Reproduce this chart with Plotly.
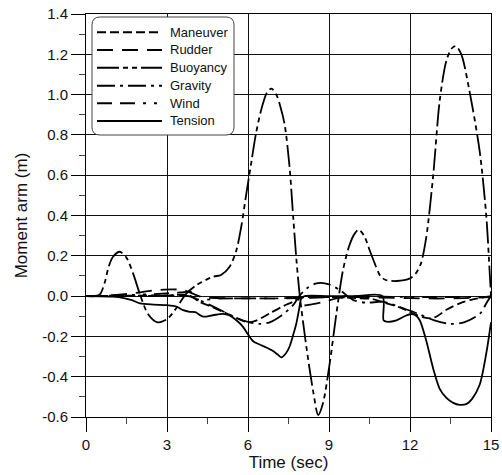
import plotly.graph_objects as go

# ---------------- data ----------------
t_buoyancy = [0, 0.45, 0.55, 0.7, 0.85, 1.0, 1.25, 1.5, 1.75, 2.02, 2.3, 2.65, 3.0, 3.37, 3.7,
              4.1, 4.7, 5.0, 5.32, 5.57, 5.75, 5.94, 6.13, 6.3, 6.5, 6.7, 6.87, 7.05, 7.2, 7.36,
              7.54, 7.67, 7.8, 7.92, 8.16, 8.41, 8.6, 8.78, 9.03, 9.27, 9.52, 9.75, 9.95, 10.1,
              10.3, 10.5, 10.7, 10.9, 11.1, 11.5, 12.0, 12.2, 12.4, 12.6, 12.86, 13.1, 13.35,
              13.55, 13.7, 13.9, 14.2, 14.58, 14.83, 14.95, 15.0]
v_buoyancy = [0, 0.002, 0.015, 0.07, 0.15, 0.195, 0.22, 0.19, 0.11, 0.0, -0.09, -0.13, -0.115,
              -0.055, 0.01, 0.055, 0.096, 0.105, 0.146, 0.228, 0.344, 0.51, 0.67, 0.81, 0.93,
              1.01, 1.03, 1.0, 0.94, 0.85, 0.64, 0.4, 0.17, 0.0, -0.25, -0.47, -0.59, -0.53,
              -0.33, -0.09, 0.13, 0.25, 0.31, 0.33, 0.3, 0.23, 0.16, 0.1, 0.08, 0.075, 0.088,
              0.11, 0.16, 0.29, 0.6, 0.97, 1.17, 1.23, 1.24, 1.2, 1.02, 0.72, 0.39, 0.12, 0.0]

t_maneuver = [0, 1.5, 3.0, 3.8, 4.2, 4.6, 5.07, 5.6, 6.0, 6.3, 6.8, 7.3, 7.67, 7.9, 8.2, 9.0,
              10.0, 10.6, 11.13, 11.6, 12.1, 12.5, 12.8, 13.0, 13.35, 13.84, 14.33, 15.0]
v_maneuver = [0, 0.002, 0.004, 0.005, -0.028, -0.05, -0.078, -0.11, -0.13, -0.122, -0.086,
              -0.05, -0.028, -0.01, -0.005, -0.005, -0.01, -0.015, -0.036, -0.055, -0.086,
              -0.105, -0.11, -0.1, -0.068, -0.036, -0.016, 0.0]

t_rudder = [0, 1.0, 1.8, 2.5, 3.2, 3.6, 4.0, 4.3, 5.0, 7.0, 7.85, 7.95, 8.4, 8.9, 9.4, 10.0,
            11.0, 12.0, 13.0, 14.0, 15.0]
v_rudder = [0, 0.005, 0.015, 0.028, 0.033, 0.03, 0.01, -0.005, -0.01, -0.012, -0.012, -0.045,
            -0.04, -0.025, -0.008, -0.005, -0.008, -0.01, -0.012, -0.01, -0.005]

t_gravity = [0, 2.0, 3.8, 4.2, 4.6, 5.07, 5.6, 6.0, 6.43, 6.8, 7.2, 7.67, 7.9, 8.2, 8.5, 8.7,
             9.0, 9.4, 9.9, 10.4, 11.0, 11.6, 12.25, 12.9, 13.5, 14.0, 14.6, 14.85, 15.0]
v_gravity = [0, 0.0, 0.0, -0.02, -0.045, -0.075, -0.11, -0.128, -0.138, -0.13, -0.1, -0.045,
             0.0, 0.04, 0.062, 0.066, 0.058, 0.03, -0.02, -0.033, -0.028, -0.053, -0.085,
             -0.12, -0.138, -0.13, -0.086, -0.03, 0.0]

t_wind = [0, 1.5, 2.5, 3.5, 3.9, 4.1, 5.0, 8.0, 9.0, 10.0, 11.0, 13.0, 15.0]
v_wind = [0, 0.005, 0.01, 0.018, 0.02, -0.015, -0.012, -0.01, -0.005, 0.0, -0.003, -0.005, -0.004]

t_tension = [0, 1.0, 1.4, 1.7, 2.0, 2.5, 3.0, 3.37, 3.6, 3.84, 4.05, 4.33, 4.7, 5.07, 5.3, 5.57,
             5.8, 6.0, 6.2, 6.43, 6.68, 6.9, 7.1, 7.24, 7.4, 7.54, 7.7, 7.79, 7.9, 7.98, 8.1,
             9.0, 10.0, 10.98, 11.02, 11.13, 11.5, 11.8, 12.0, 12.2, 12.36, 12.6, 12.86, 13.1,
             13.35, 13.6, 13.84, 14.1, 14.3, 14.58, 14.83, 15.0]
v_tension = [0, -0.003, -0.01, -0.02, -0.036, -0.042, -0.045, -0.053, -0.07, -0.078, -0.08,
             -0.102, -0.095, -0.088, -0.095, -0.12, -0.15, -0.19, -0.225, -0.24, -0.255, -0.27,
             -0.29, -0.304, -0.285, -0.25, -0.18, -0.136, -0.06, -0.01, 0.0, 0.0, 0.0, 0.0,
             -0.12, -0.127, -0.12, -0.1, -0.09, -0.095, -0.12, -0.22, -0.36, -0.46, -0.505,
             -0.53, -0.54, -0.535, -0.51, -0.44, -0.28, -0.13]

series_names = ["Maneuver", "Rudder", "Buoyancy", "Gravity", "Wind", "Tension"]
x_ticks = [0, 3, 6, 9, 12, 15]
y_ticks = [-0.6, -0.4, -0.2, 0.0, 0.2, 0.4, 0.6, 0.8, 1.0, 1.2, 1.4]

# ---------------- styles ----------------
dashes = {
    "Maneuver": "9px,4px",
    "Rudder": "16px,9px",
    "Buoyancy": "22px,4px,5px,4px,5px,4px",
    "Gravity": "18px,5px,3px,5px",
    "Wind": "15px,8px,15px,8px,3px,8px,3px,8px",
    "Tension": "solid",
}
data = {
    "Maneuver": (t_maneuver, v_maneuver),
    "Rudder": (t_rudder, v_rudder),
    "Buoyancy": (t_buoyancy, v_buoyancy),
    "Gravity": (t_gravity, v_gravity),
    "Wind": (t_wind, v_wind),
    "Tension": (t_tension, v_tension),
}
FONT = "Liberation Sans, Arial, sans-serif"

fig = go.Figure()
for name in ["Rudder", "Wind", "Gravity", "Maneuver", "Tension", "Buoyancy"]:
    tx, vy = data[name]
    fig.add_trace(go.Scatter(
        x=tx, y=vy, mode="lines", name=name, showlegend=False,
        line=dict(color="black", width=1.8, dash=dashes[name], shape="spline", smoothing=0.8),
    ))

L, R, T, B = 86, 11, 14, 58
W, H = 502, 475
PW, PH = W - L - R, H - T - B


def px(x, y):
    return (x - L) / PW, (H - B - y) / PH


# rounded legend frame
x0, y1 = px(92, 17)
x1, y0 = px(234, 135)
rx, ry = 8 / PW, 8 / PH
path = (f"M {x0+rx},{y1} L {x1-rx},{y1} Q {x1},{y1} {x1},{y1-ry} L {x1},{y0+ry} "
        f"Q {x1},{y0} {x1-rx},{y0} L {x0+rx},{y0} Q {x0},{y0} {x0},{y0+ry} "
        f"L {x0},{y1-ry} Q {x0},{y1} {x0+rx},{y1} Z")
shapes = [dict(type="path", path=path, xref="paper", yref="paper",
               fillcolor="white", line=dict(color="#444", width=1), layer="above")]
annotations = []
row_y = [32.3, 50, 67.7, 85.7, 103.3, 121]
for name, yy in zip(series_names, row_y):
    a, b = px(97, yy)
    c, _ = px(162, yy)
    shapes.append(dict(type="line", xref="paper", yref="paper", x0=a, x1=c, y0=b, y1=b,
                       line=dict(color="black", width=2, dash=dashes[name]), layer="above"))
    tx, _ = px(168, yy)
    annotations.append(dict(text=name, x=tx, y=b, xref="paper", yref="paper",
                            xanchor="left", yanchor="middle", showarrow=False,
                            font=dict(family=FONT, size=13, color="#111")))

axis_common = dict(
    showgrid=True, gridcolor="#111", gridwidth=1,
    showline=True, linecolor="black", linewidth=1, mirror=True,
    ticks="outside", ticklen=14, tickwidth=1, tickcolor="black",
    tickfont=dict(family=FONT, size=15, color="#111"),
    zeroline=False, automargin=False,
)

fig.update_layout(
    width=W, height=H,
    margin=dict(l=L, r=R, t=T, b=B, autoexpand=False),
    paper_bgcolor="white", plot_bgcolor="white",
    shapes=shapes, annotations=annotations,
    xaxis=dict(range=[0, 15], tickvals=x_ticks, ticktext=[str(v) for v in x_ticks],
               minor=dict(dtick=1.5, tick0=0, ticks="outside", ticklen=6, tickcolor="#444",
                          showgrid=False),
               title=dict(text="Time (sec)", font=dict(family=FONT, size=17, color="#111"),
                          standoff=0),
               **axis_common),
    yaxis=dict(range=[-0.6, 1.4], tickvals=y_ticks, ticktext=[f"{v:.1f}" for v in y_ticks],
               minor=dict(dtick=0.1, tick0=0, ticks="outside", ticklen=6, tickcolor="#444",
                          showgrid=False),
               title=dict(text="Moment arm (m)", font=dict(family=FONT, size=17, color="#111"),
                          standoff=10),
               **axis_common),
)

fig.write_html("out.html",
               config={"displayModeBar": False},
               post_script="document.body.style.margin='0px';document.body.style.overflow='hidden';")
